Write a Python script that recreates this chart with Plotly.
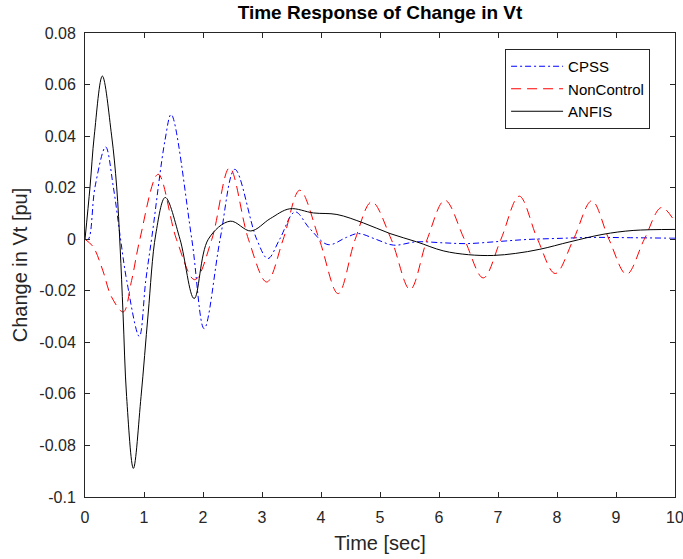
import plotly.graph_objects as go

# CPSS (blue, dash-dot)
t_cpss = [0, 0.056, 0.17, 0.35, 0.48, 0.60, 0.707, 0.92, 1.03, 1.14, 1.356, 1.46, 1.81, 2.02, 2.29, 2.54, 2.91, 3.10,
          3.30, 3.56, 3.81, 4.12, 4.43, 4.63, 4.94, 5.23, 5.62, 6.07, 6.47, 7.0, 7.49, 8.0, 8.6, 9.2, 9.97, 10]
v_cpss = [0, 0.0, 0.0203, 0.0358, 0.0203, 0.0005, -0.016, -0.0377, -0.016, 0.002, 0.0384, 0.0484, 0, -0.0347, 0, 0.0271, 0, -0.0075,
          0, 0.0106, 0.0041, -0.0021, 0.0007, 0.0022, -0.0001, -0.0023, -0.001, -0.0014, -0.0017, -0.0009, -0.0001, 0.0003, 0.0007, 0.0006, 0.0004, 0.0004]

# NonControl (red, dashed)
t_nc = [0, 0.14, 0.30, 0.45, 0.649, 0.79, 0.93, 1.24, 1.55, 1.86, 2.15, 2.45, 2.77, 3.08, 3.36, 3.64, 3.97, 4.29,
        4.58, 4.86, 5.19, 5.51, 5.80, 6.10, 6.43, 6.75, 7.05, 7.36, 7.67, 7.97, 8.28, 8.59, 8.88, 9.18, 9.48, 9.77, 10]
v_nc = [0, -0.003, -0.012, -0.0224, -0.0282, -0.016, 0, 0.0252, 0, -0.0157, 0, 0.0277, 0, -0.0166, 0, 0.019, 0, -0.0211,
        0, 0.0145, 0, -0.0195, 0, 0.0151, 0, -0.015, 0, 0.0167, 0, -0.0133, 0, 0.0149, 0, -0.0136, 0, 0.0123, 0.0067]

# ANFIS (black, solid)
t_anfis = [0, 0.085, 0.158, 0.294, 0.45, 0.537, 0.595, 0.645, 0.705, 0.82, 0.95, 1.07, 1.20, 1.36, 1.61, 1.85, 2.09, 2.46,
           2.81, 3.14, 3.47, 3.87, 4.27, 4.72, 5.17, 5.62, 6.07, 6.50, 6.92, 7.30, 7.71, 8.22, 8.78, 9.29, 10]
v_anfis = [0, 0.0203, 0.0404, 0.0633, 0.0404, 0.0203, -0.003, -0.029, -0.061, -0.0889, -0.061, -0.029, 0.002, 0.0162, 0, -0.023, 0, 0.007,
           0.0032, 0.008, 0.0118, 0.0102, 0.0096, 0.0063, 0.0022, -0.001, -0.0045, -0.006, -0.0063, -0.0055, -0.0039, -0.001, 0.0019, 0.0034, 0.0038]

y_ticks = [-0.1, -0.08, -0.06, -0.04, -0.02, 0, 0.02, 0.04, 0.06, 0.08]
y_labels = ["-0.1", "-0.08", "-0.06", "-0.04", "-0.02", "0", "0.02", "0.04", "0.06", "0.08"]
x_ticks = list(range(0, 11))

FONT = "Liberation Sans, Arial, sans-serif"

fig = go.Figure()
fig.add_trace(go.Scatter(x=t_cpss, y=v_cpss, name="CPSS", mode="lines",
                         line=dict(color="#0000ff", width=1, dash="6px,3px,2px,3px", shape="spline", smoothing=1)))
fig.add_trace(go.Scatter(x=t_nc, y=v_nc, name="NonControl", mode="lines",
                         line=dict(color="#ff0000", width=1, dash="10px,6px", shape="spline", smoothing=1)))
fig.add_trace(go.Scatter(x=t_anfis, y=v_anfis, name="ANFIS", mode="lines",
                         line=dict(color="#000000", width=1, shape="spline", smoothing=1)))

axis_common = dict(showline=True, linecolor="#262626", linewidth=1, mirror="ticks",
                   ticks="inside", ticklen=5, tickcolor="#262626", showgrid=False, zeroline=False,
                   ticklabeloverflow="allow", automargin=False,
                   tickfont=dict(family=FONT, size=16, color="#262626"))

fig.update_layout(
    width=683, height=559,
    margin=dict(l=85, r=8, t=33, b=62),
    paper_bgcolor="white", plot_bgcolor="white",
    title=dict(text="<b>Time Response of Change in Vt</b>", xref="paper", x=0.5, xanchor="center",
               yref="container", y=0.978, yanchor="middle",
               font=dict(family=FONT, size=19, color="#000000")),
    xaxis=dict(range=[0, 10], tickvals=x_ticks, ticklabelstandoff=6,
               title=dict(text="Time [sec]", font=dict(family=FONT, size=20, color="#262626"), standoff=10),
               **axis_common),
    yaxis=dict(range=[-0.1, 0.08], tickvals=y_ticks, ticktext=y_labels, ticklabelstandoff=5,
               title=dict(text="Change in Vt [pu]", font=dict(family=FONT, size=20, color="#262626"), standoff=6),
               **axis_common),
    legend=dict(x=0.712, y=0.9655, xanchor="left", yanchor="top", bordercolor="#262626", borderwidth=1,
                bgcolor="white", font=dict(family=FONT, size=15, color="#000000"),
                itemwidth=52, tracegroupgap=0),
    showlegend=True,
)

fig.write_html("out.html")
